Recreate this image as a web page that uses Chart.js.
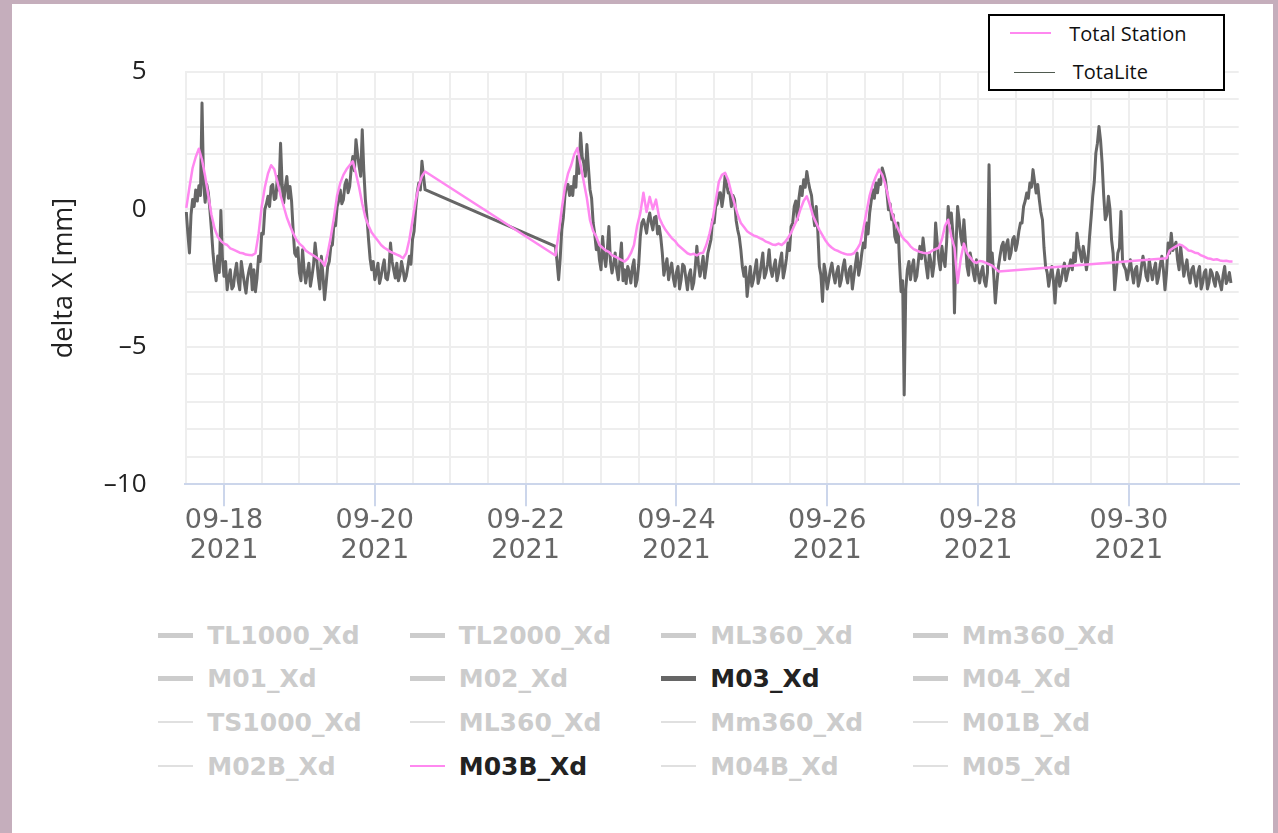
<!DOCTYPE html>
<html>
<head>
<meta charset="utf-8">
<title>delta X</title>
<script src="https://cdn.jsdelivr.net/npm/chart.js@4.4.1/dist/chart.umd.min.js"></script>
<style>
  html, body { margin: 0; padding: 0; }
  body { width: 1278px; height: 833px; background: #c5aebc; position: relative; overflow: hidden; }
  #panel { position: absolute; left: 12px; top: 4px; width: 1261px; height: 829px; background: #fff; }
  #chart { position: absolute; left: 0; top: 0; }

  /* small key box, top right */
  #keyBox { position: absolute; left: 976.3px; top: 10.3px; width: 236.7px; height: 76.4px; box-sizing: border-box;
            border: 2.3px solid #000; background: #fff; font-family: "Open Sans", sans-serif; font-size: 20px; color: #111; }
  #keyBox .ln { position: absolute; width: 41px; height: 1.5px; }
  #keyBox .tx { position: absolute; line-height: 20px; white-space: nowrap; }

  /* series legend below the plot */
  #legend { position: absolute; left: 146.3px; top: 609.2px; display: grid; grid-template-columns: repeat(4, 251.5px);
            grid-auto-rows: 43.7px; font-family: "DejaVu Sans", sans-serif; font-weight: bold; font-size: 25px; color: #cccccc; }
  #legend .item { display: flex; align-items: center; white-space: nowrap; }
  #legend .item.on { color: #222; }
  #legend .swatch { width: 35px; margin-right: 14px; flex: none; }
  #legend .thick { height: 5px; background: #cccccc; }
  #legend .thin { height: 2px; background: #e0e0e0; }
</style>
</head>
<body>
<div id="panel">
  <canvas id="chart" width="1261" height="600"></canvas>
  <div id="keyBox">
    <div class="ln" style="left:20px; top:16px; background:#ff88f0;"></div>
    <div class="tx" style="left:79px; top:8px;">Total Station</div>
    <div class="ln" style="left:24px; top:55.5px; background:#4f5a4f;"></div>
    <div class="tx" style="left:82.5px; top:46px;">TotaLite</div>
  </div>
  <div id="legend"></div>
</div>
<script>
// ---------- axis labels ----------
const xLabelDays = [18, 20, 22, 24, 26, 28, 30];
const xLabelDates = ['09-18', '09-20', '09-22', '09-24', '09-26', '09-28', '09-30'];
const xLabelYear = '2021';
const yLabelValues = [5, 0, -5, -10];

// ---------- series names (legend order) ----------
const seriesNames = [
  'TL1000_Xd', 'TL2000_Xd', 'ML360_Xd', 'Mm360_Xd',
  'M01_Xd', 'M02_Xd', 'M03_Xd', 'M04_Xd',
  'TS1000_Xd', 'ML360_Xd', 'Mm360_Xd', 'M01B_Xd',
  'M02B_Xd', 'M03B_Xd', 'M04B_Xd', 'M05_Xd'
];

// ---------- M03_Xd (TotaLite): readings on the hour, day of September ----------
const totaliteStartDays = [17.5, 22 + 9.5 / 24];
const totaliteRun1 = [
  -0.1, -1.59, 0.35, 0.7, 0.85, 3.86, 0.25, 0.6, -0.75, -2.2, -1.7, -0.05,
  -2.44, -2.93, -2.2, -2.8, -1.96, -2.93, -2.32, -3.05, -2.2, -2.93, -3.0, -1.71,
  -0.87, 0.0, 0.47, 0.83, 0.35, 1.19, 2.4, 0.23, 1.19, 0.83, -0.75, -1.71,
  -2.32, -1.47, -2.68, -1.96, -2.44, -1.23, -2.44, -1.71, -3.29, -2.08, -1.35, -0.5,
  0.1, 0.7, 0.35, 1.07, 0.83, 1.92, 2.53, 1.56, 2.89, 0.35, -1.1, -2.2,
  -2.56, -1.96, -2.44, -1.84, -2.56, -1.23, -2.2, -1.96, -2.38, -2.2, -2.44, -1.71,
  -1.1, 0.0, 0.95, 1.74, 0.71
];
// readings on the half hour, between the ones above
const totaliteRun1Mid = [
  -0.9, -0.2, 0.1, 0.3, 0.5, 0.9, 0.9, 0.0, -1.6, -2.6, -2.3, -1.8,
  -1.9, -2.5, -2.9, -2.3, -2.6, -1.9, -2.7, -2.5, -2.0, -2.2, -2.5, -1.9,
  -0.9, 0.2, 0.1, 0.9, 0.4, 0.7, 0.9, 0.8, 0.4, 0.3, -1.6, -1.4,
  -2.6, -2.2, -2.3, -2.8, -2.0, -1.8, -2.9, -2.4, -2.7, -1.9, -1.3, -0.6,
  0.3, 0.2, 0.9, 0.6, 1.5, 1.4, 2.0, 1.2, 1.4, -0.3, -1.8, -1.9,
  -2.3, -2.7, -2.1, -2.5, -2.2, -1.9, -2.5, -2.6, -1.9, -2.6, -2.1, -2.0,
  -0.8, 0.6, 0.7, 1.2
];
const totaliteRun2 = [
  -1.35, -2.56, -0.75, 0.47, 0.9, 0.83, 1.19, 1.92, 2.77, 1.68, 2.35, 0.71,
  -0.5, -1.47, -1.84, -0.99, -2.08, -0.63, -2.32, -1.59, -2.56, -1.23, -2.2, -2.08,
  -2.68, -1.84, -2.56, -0.99, -0.38, -0.87, -0.14, -0.75, -0.26, -0.63, -1.59, -2.08,
  -2.56, -1.96, -2.8, -2.08, -2.56, -2.08, -2.93, -2.2, -2.68, -1.35, -2.44, -1.71,
  -2.08, -1.35, -0.38, 0.1, 0.59, 0.1, 1.25, 0.59, 0.1, 0.35, -0.75, -1.47,
  -2.44, -3.17, -2.08, -2.56, -1.84, -2.44, -1.59, -2.32, -1.47, -2.44, -1.84, -2.32,
  -1.59, -2.2, -1.23, -0.63, 0.1, -0.38, 0.83, 1.07, 1.37, 0.71, -0.14, 0.1,
  -2.08, -3.35, -2.32, -2.56, -1.96, -2.68, -2.08, -2.56, -1.84, -2.68, -2.08, -2.44,
  -1.59, -2.08, -1.23, -0.5, -0.14, 0.71, 0.95, 1.07, 1.5, 1.07, -0.02, -0.38,
  -0.99, -0.5, -3.0, -6.75, -2.2, -2.56, -1.84, -2.44, -1.35, -1.05, -2.08, -1.59,
  -2.44, -0.5, -1.84, -1.35, -2.08, 0.1, -0.14, -3.77, 0.1, -0.99, -0.38, -2.08,
  -1.59, -2.32, -1.84, -2.68, -2.08, -2.8, 1.62, -1.59, -3.41, -2.08, -1.35, -1.84,
  -1.11, -1.59, -0.99, -1.23, -0.5, 0.1, 0.59, 0.95, 1.44, 0.59, 0.35, -0.38,
  -2.08, -2.8, -2.08, -3.41, -2.2, -2.56, -1.96, -2.32, -1.84, -1.59, -0.87, -1.59,
  -1.35, -2.2, -0.99, 0.47, 2.04, 3.01, 1.68, -0.38, 0.47, -1.11, -2.93, -1.59,
  -0.08, -2.08, -2.56, -1.84, -2.68, -2.08, -2.56, -1.71, -2.44, -1.84, -2.56, -1.96,
  -2.44, -1.71, -2.93, -1.23, -0.87, -1.35, -1.84, -1.35, -2.44, -1.84, -2.68, -2.08,
  -2.8, -2.08, -2.68, -2.2, -2.68, -2.32, -2.8, -2.44, -2.93, -2.08, -2.56, -2.68
];
const totaliteRun2Mid = [
  -1.9, -1.8, -0.3, 0.9, 0.5, 0.5, 0.8, 1.3, 1.9, 1.2, 1.5, 0.4,
  -0.9, -1.2, -2.2, -1.7, -1.5, -1.9, -2.0, -2.2, -1.9, -2.6, -2.7, -2.3,
  -2.1, -2.8, -2.0, -0.5, -0.6, -0.4, -0.5, -0.3, -0.9, -1.0, -2.4, -1.8,
  -2.2, -2.5, -2.3, -2.9, -2.0, -2.5, -2.4, -2.9, -2.1, -2.0, -2.1, -2.5,
  -1.6, -1.1, -0.5, 0.2, 0.6, 0.5, 0.9, 0.6, 0.5, -0.4, -1.0, -2.1,
  -2.1, -2.6, -2.8, -2.2, -2.7, -2.0, -2.5, -2.0, -2.2, -2.1, -2.6, -1.9,
  -2.5, -1.8, -1.5, -0.5, 0.3, 0.4, 0.5, 0.8, 1.0, 0.5, -0.6, -0.8,
  -2.4, -2.0, -2.9, -2.2, -2.4, -2.3, -2.8, -2.1, -2.4, -2.2, -2.9, -2.0,
  -2.4, -1.6, -1.4, -0.9, 0.3, 0.4, 0.6, 0.9, 1.3, 0.6, 0.2, -0.2,
  -1.2, -1.9, -2.6, -2.9, -1.9, -2.1, -2.6, -1.9, -1.8, -1.6, -2.5, -1.9,
  -2.0, -1.2, -2.2, -1.8, -1.2, -0.5, -0.9, -1.3, -0.4, -1.3, -1.2, -2.4,
  -1.9, -2.6, -2.3, -2.3, -2.6, -2.3, -2.0, -2.4, -2.7, -1.7, -1.2, -1.3,
  -1.8, -1.1, -1.5, -0.8, -0.5, 0.3, 0.4, 0.8, 1.0, 0.9, -0.1, -1.4,
  -2.3, -2.4, -2.6, -2.5, -2.8, -2.2, -2.6, -2.1, -2.2, -1.9, -1.3, -1.9,
  -1.7, -1.8, -0.3, 1.0, 2.4, 2.5, 0.5, -0.2, 0.0, -1.6, -2.3, -1.4,
  -1.9, -2.2, -2.2, -2.3, -2.2, -2.8, -2.1, -2.0, -2.6, -2.2, -2.2, -2.7,
  -2.0, -2.2, -2.3, -1.6, -1.5, -1.2, -2.2, -1.9, -2.1, -2.4, -2.2, -2.5,
  -2.3, -2.9, -2.3, -2.9, -2.2, -2.6, -2.3, -2.7, -2.4, -2.7, -2.3
];

// ---------- M03B_Xd (Total Station): readings on the hour ----------
const stationStartDays = [17.5, 22 + 9.5 / 24, 30.5];
const stationRun1 = [
  0.05, 0.8, 1.5, 1.9, 2.2, 1.8, 1.2, 0.5, -0.2, -0.7, -1.0, -1.15,
  -1.25, -1.3, -1.42, -1.47, -1.52, -1.58, -1.6, -1.65, -1.66, -1.67, -1.6, -0.9,
  0.1, 0.8, 1.3, 1.6, 1.45, 1.0, 0.5, 0.1, -0.3, -0.6, -0.87, -1.1,
  -1.25, -1.35, -1.5, -1.58, -1.65, -1.72, -1.8, -1.88, -2.05, -1.6, -1.0, -0.3,
  0.5, 0.95, 1.25, 1.45, 1.6, 1.74, 1.3, 0.8, 0.2, -0.3, -0.6, -0.85,
  -1.0, -1.15, -1.3, -1.4, -1.47, -1.55, -1.6, -1.65, -1.7, -1.78, -1.6, -1.1,
  -0.4, 0.3, 0.85, 1.2, 1.37
];
const stationRun2 = [
  -1.68, -0.9, 0.0, 0.8, 1.3, 1.6, 2.0, 2.22, 1.6, 1.0, 0.4, -0.4,
  -0.8, -1.0, -1.3, -1.4, -1.5, -1.55, -1.68, -1.72, -1.78, -1.85, -1.9, -1.8,
  -1.6, -1.3, -0.6, -0.14, 0.6, -0.1, 0.45, 0.0, 0.35, -0.3, -0.55, -0.75,
  -0.9, -1.05, -1.15, -1.3, -1.4, -1.5, -1.6, -1.65, -1.62, -1.68, -1.6, -1.58,
  -1.3, -0.9, -0.4, 0.3, 1.0, 1.25, 1.32, 1.05, 0.6, 0.2, -0.2, -0.5,
  -0.65, -0.8, -0.88, -0.95, -0.99, -1.05, -1.1, -1.18, -1.22, -1.28, -1.3, -1.25,
  -1.3, -1.2, -1.05, -0.85, -0.6, -0.35, 0.0, 0.3, 0.47, 0.15, -0.25, -0.5,
  -0.75, -0.95, -1.15, -1.3, -1.4, -1.48, -1.52, -1.58, -1.62, -1.65, -1.65, -1.6,
  -1.45, -1.25, -0.7, -0.1, 0.5, 0.9, 1.2, 1.44, 1.25, 0.9, 0.4, -0.1,
  -0.45, -0.7, -0.95, -1.1, -1.2, -1.35, -1.45, -1.5, -1.55, -1.58, -1.6, -1.58,
  -1.5, -1.45, -1.4, -1.1, -0.6, -0.38, -1.0, -1.4, -2.68, -1.8, -1.25, -1.6,
  -1.75, -1.9, -1.95, -1.88, -1.9, -1.95, -2.0, -2.05, -2.15, -2.26
];
const stationRun3 = [
  -1.78, -1.5, -1.42, -1.35, -1.28, -1.32, -1.4, -1.5, -1.52, -1.58, -1.6, -1.68,
  -1.72, -1.78, -1.8, -1.84, -1.82, -1.86, -1.88, -1.87, -1.9, -1.9
];

// runs of readings -> {x: day, y: mm}; mids sit half an hour after each hourly reading
function toPoints(starts, runs, mids) {
  const pts = [];
  runs.forEach((run, r) => run.forEach((v, i) => {
    pts.push({ x: starts[r] + i / 24, y: v });
    const m = mids && mids[r] ? mids[r][i] : undefined;
    if (m !== undefined) pts.push({ x: starts[r] + (i + 0.5) / 24, y: m });
  }));
  return pts;
}

const seriesData = {
  'M03_Xd': toPoints(totaliteStartDays, [totaliteRun1, totaliteRun2], [totaliteRun1Mid, totaliteRun2Mid]),
  'M03B_Xd': toPoints(stationStartDays, [stationRun1, stationRun2, stationRun3])
};
const seriesColor = { 'M03_Xd': '#666666', 'M03B_Xd': '#ff88f0' };
const seriesWidth = { 'M03_Xd': 3, 'M03B_Xd': 2.5 };

const datasets = seriesNames.map(name => {
  const shown = !!seriesData[name];
  return {
    label: name,
    data: shown ? seriesData[name] : [],
    hidden: !shown,
    borderColor: seriesColor[name] || '#cccccc',
    borderWidth: seriesWidth[name] || 2,
    order: name === 'M03B_Xd' ? 0 : (shown ? 1 : 2)
  };
});

Chart.defaults.font.family = 'DejaVu Sans';

const chart = new Chart(document.getElementById('chart'), {
  type: 'line',
  data: { datasets },
  options: {
    responsive: false,
    animation: false,
    normalized: true,
    layout: { padding: { left: 36.3, top: 67.7, right: 34.3, bottom: 29.7 } },
    plugins: { legend: { display: false }, tooltip: { enabled: false } },
    elements: {
      point: { radius: 0 },
      line: { tension: 0, borderJoinStyle: 'round' }
    },
    scales: {
      x: {
        type: 'linear',
        min: 17.476,
        max: 31.457,
        afterFit: s => { s.height = 90; },
        ticks: {
          stepSize: 0.5,
          includeBounds: false,
          autoSkip: false,
          maxRotation: 0,
          padding: 0,
          color: '#666',
          font: { family: 'DejaVu Sans', size: 27, lineHeight: 1.111 },
          callback: v => {
            const i = xLabelDays.indexOf(v);
            return i < 0 ? '' : [xLabelDates[i], xLabelYear];
          }
        },
        grid: {
          color: '#eeeeee',
          lineWidth: 2,
          tickLength: 22,
          tickWidth: 2,
          tickColor: c => (c.tick && xLabelDays.includes(c.tick.value)) ? '#ccd6eb' : 'rgba(0,0,0,0)'
        },
        border: { color: '#ccd6eb', width: 2 }
      },
      y: {
        min: -10,
        max: 5,
        afterFit: s => { s.width = 136.2; },
        ticks: {
          stepSize: 1,
          autoSkip: false,
          padding: 38,
          color: '#222',
          font: { family: 'Open Sans', size: 26 },
          callback: v => yLabelValues.includes(v) ? String(v).replace('-', '\u2013') : ''
        },
        grid: { color: '#eeeeee', lineWidth: 2, drawTicks: false },
        border: { display: false },
        title: {
          display: true,
          text: 'delta X [mm]',
          color: '#222',
          font: { family: 'Open Sans', size: 27 },
          padding: 0
        }
      }
    }
  }
});

// ---------- legend grid built from the chart's datasets ----------
const legendEl = document.getElementById('legend');
chart.data.datasets.forEach((ds, i) => {
  const on = chart.isDatasetVisible(i);
  const item = document.createElement('div');
  item.className = 'item' + (on ? ' on' : '');
  const sw = document.createElement('span');
  sw.className = 'swatch ' + (i < 8 ? 'thick' : 'thin');
  if (on) sw.style.background = ds.borderColor;
  const tx = document.createElement('span');
  tx.textContent = ds.label;
  item.append(sw, tx);
  legendEl.appendChild(item);
});
</script>
</body>
</html>
